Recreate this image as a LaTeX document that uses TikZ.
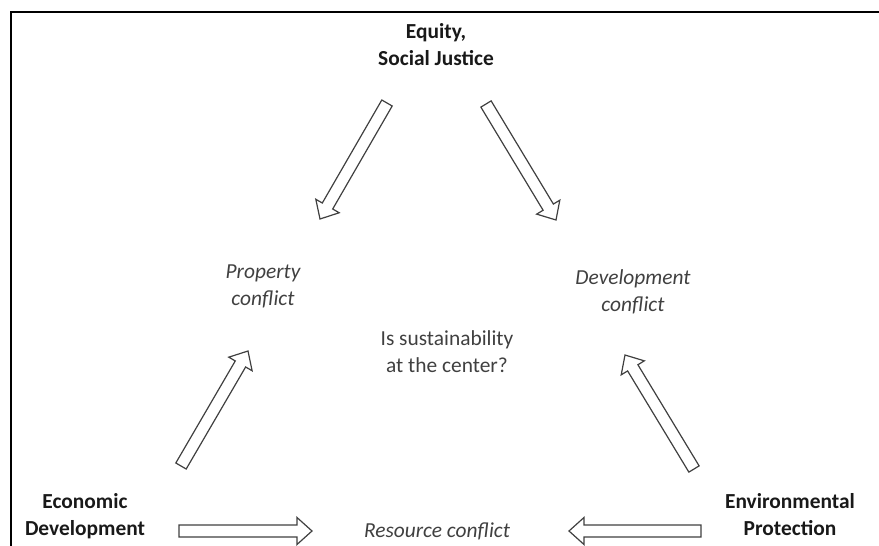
\documentclass[tikz,border=0pt]{standalone}
\usepackage{fontspec}
\setmainfont{Carlito}
\usetikzlibrary{calc}

% hollow block arrow from #1 (tail) to #2 (tip)
\newcommand{\blockarrow}[2]{%
  \coordinate (#1base) at ($(#2)!7.5pt!(#1)$);
  \draw[arrowline] ($(#1)!3pt!90:(#2)$) -- ($(#1base)!3pt!90:(#2)$) -- ($(#1base)!6.75pt!90:(#2)$) -- (#2)
    -- ($(#1base)!6.75pt!-90:(#2)$) -- ($(#1base)!3pt!-90:(#2)$) -- ($(#1)!3pt!-90:(#2)$) -- cycle;}

\begin{document}
\begin{tikzpicture}[x=0.5pt, y=-0.5pt]
        \tikzstyle{every node}=[inner sep=0pt, font=\fontsize{10.7}{13.5}\selectfont, text=black!90]
        \tikzstyle{corner}=[font=\fontsize{10.7}{13.5}\selectfont\bfseries]
        \tikzstyle{conflict}=[font=\fontsize{10.7}{13.5}\selectfont\itshape, text=black!75]
        \tikzstyle{arrowline}=[draw=black!75, fill=white, line width=0.6pt, line join=miter]

        \useasboundingbox (0,0) rectangle (879,546);
        \draw[line width=1pt] (879,12) -- (11,12) -- (11,546);

        \node[corner] (equity) at (436,47)  {\begin{tabular}{c} Equity, \\ Social Justice \end{tabular}};
        \node[corner] (econ)   at (85,517)  {\begin{tabular}{c} Economic \\ Development \end{tabular}};
        \node[corner] (envir)  at (790,517) {\begin{tabular}{c} Environmental \\ Protection \end{tabular}};

        \node[conflict] (property) at (263,287) {\begin{tabular}{c} Property \\ conflict \end{tabular}};
        \node[conflict] (develop)  at (633,293) {\begin{tabular}{c} Development \\ conflict \end{tabular}};
        \node[conflict] (resource) at (437,531) {Resource conflict};

        \node[text=black!75] (center) at (447,354) {\begin{tabular}{c} Is sustainability \\ at the center? \end{tabular}};

        \coordinate (pt) at (387,103); \coordinate (ph) at (320,219);
        \coordinate (dt) at (486,104); \coordinate (dh) at (556,220);
        \coordinate (et) at (181,466); \coordinate (eh) at (248,351);
        \coordinate (vt) at (694,469); \coordinate (vh) at (625,355);
        \coordinate (rt) at (179,531); \coordinate (rh) at (312,531);
        \coordinate (lt) at (701,531); \coordinate (lh) at (569,531);

        \blockarrow{pt}{ph}
        \blockarrow{dt}{dh}
        \blockarrow{et}{eh}
        \blockarrow{vt}{vh}
        \blockarrow{rt}{rh}
        \blockarrow{lt}{lh}
    \end{tikzpicture}
\end{document}
